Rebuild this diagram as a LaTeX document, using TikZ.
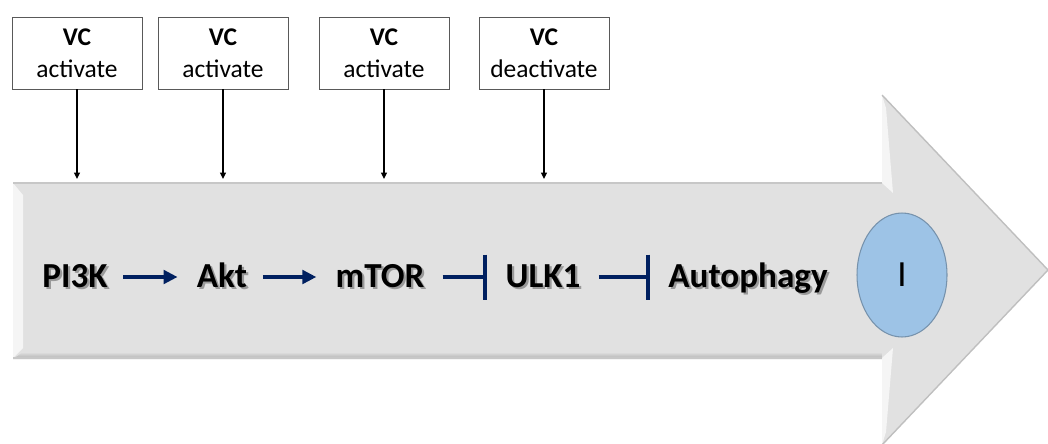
\documentclass[tikz,border=0pt]{standalone}
\usepackage{fontspec}
\setmainfont{Carlito}
\usetikzlibrary{arrows.meta,shapes.geometric}

\definecolor{pathblue}{HTML}{002060}
\definecolor{bodygray}{HTML}{E1E1E1}
\definecolor{ovalblue}{HTML}{9DC3E6}

% bold label with a soft drop shadow behind it
\newcommand{\shadowed}[1]{\makebox[0pt][l]{\hspace{1.3pt}\raisebox{-1.3pt}{\textcolor{black!40}{#1}}}#1}

\begin{document}
\begin{tikzpicture}[x=0.02cm, y=-0.02cm,
    vcbox/.style={draw=black!65, line width=0.5pt, fill=white, minimum width=2.6cm,
        minimum height=1.44cm, align=center, inner sep=0pt, font=\fontsize{14.5}{18}\selectfont},
    gene/.style={inner sep=0pt, text height=0.48cm, text depth=0.08cm,
        font=\fontsize{20}{24}\selectfont\bfseries},
    act/.style={pathblue, line width=0.08cm, -{Triangle[length=0.28cm,width=0.27cm]},
        shorten <=0.31cm, shorten >=0.38cm},
    inhib/.style={pathblue, line width=0.08cm, -{Bar[width=0.9cm]},
        shorten <=0.36cm, shorten >=0.36cm},
    feed/.style={black, line width=0.8pt, -{Triangle[length=0.13cm,width=0.12cm]}}]

\useasboundingbox (0,0) rectangle (1048,443);

% the big grey arrow
\fill[bodygray] (13,183) -- (882,183) -- (882,95) -- (1048,270) -- (882,445)
    -- (882,358) -- (13,358) -- cycle;
\fill[white!96!black] (13,183) -- (23,195) -- (23,348) -- (13,358) -- cycle;
\fill[white!96!black] (882,95) -- (886,108) -- (893,193) -- (882,183) -- cycle;
\fill[white!96!black] (882,445) -- (886,432) -- (893,348) -- (882,358) -- cycle;
\shade[top color=bodygray, bottom color=black!32] (23,352) -- (882,352) -- (882,359) -- (13,359) -- cycle;
\draw[black!22, line width=0.6pt] (13,183) -- (882,183) (882,358) -- (13,358);
\draw[black!25, line width=0.8pt] (882,95) -- (1048,270) -- (882,445);

% pathway
\node[gene] (pi3k) at (75,277) {\shadowed{PI3K}};
\node[gene] (akt) at (222,277) {\shadowed{Akt}};
\node[gene] (mtor) at (380,277) {\shadowed{mTOR}};
\node[gene] (ulk1) at (543,277) {\shadowed{ULK1}};
\node[gene] (autoph) at (748,277) {\shadowed{Autophagy}};

\draw[act] (pi3k) -- (akt);
\draw[act] (akt) -- (mtor);
\draw[inhib] (mtor) -- (ulk1);
\draw[inhib] (ulk1) -- (autoph);

\node[ellipse, fill=ovalblue, draw=ovalblue!75!black, line width=0.6pt,
    minimum width=1.8cm, minimum height=2.48cm, inner sep=0pt,
    font=\fontsize{21}{24}\selectfont] (stage) at (902,275) {I};

% VC boxes on top
\node[vcbox] (vc1) at (77,53) {\textbf{VC}\\activate};
\node[vcbox] (vc2) at (223,53) {\textbf{VC}\\activate};
\node[vcbox] (vc3) at (384,53) {\textbf{VC}\\activate};
\node[vcbox] (vc4) at (544,53) {\textbf{VC}\\deactivate};

\coordinate (hit1) at (77,179);
\coordinate (hit2) at (223,179);
\coordinate (hit3) at (384,179);
\coordinate (hit4) at (544,179);

\draw[feed] (vc1) -- (hit1);
\draw[feed] (vc2) -- (hit2);
\draw[feed] (vc3) -- (hit3);
\draw[feed] (vc4) -- (hit4);

\end{tikzpicture}
\end{document}
